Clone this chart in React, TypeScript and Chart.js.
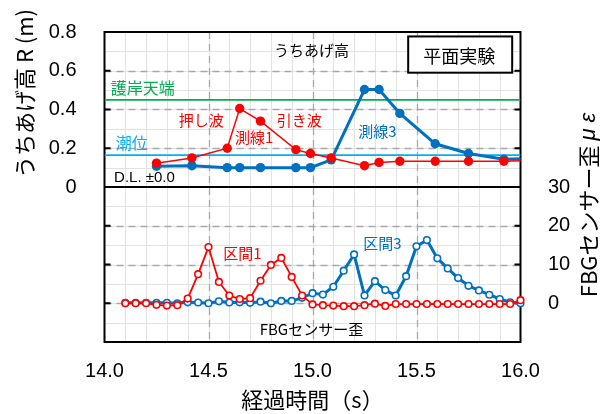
import React, { useEffect, useRef } from 'react';
import { Chart, registerables } from 'chart.js';
Chart.register(...registerables);

// ---- Data ----
// Upper panel: run-up height R (m)
const topTime = [14.25, 14.42, 14.59, 14.65, 14.75, 14.92, 14.99, 15.09, 15.25, 15.32, 15.42, 15.59, 15.75, 15.92, 16.09];
const line1R = [0.123, 0.15, 0.2, 0.405, 0.34, 0.193, 0.173, 0.15, 0.11, 0.127, 0.133, 0.133, 0.133, 0.133, 0.137];
const line3R = [0.107, 0.11, 0.1, 0.1, 0.1, 0.1, 0.1, 0.14, 0.503, 0.503, 0.38, 0.223, 0.173, 0.143, 0.15];

// Lower panel: FBG sensor strain (με)
const fbgTime = [14.1, 14.15, 14.2, 14.25, 14.3, 14.35, 14.4, 14.45, 14.5, 14.55, 14.6, 14.65, 14.7, 14.75, 14.8, 14.85, 14.9, 14.95, 15.0, 15.05, 15.1, 15.15, 15.2, 15.25, 15.3, 15.35, 15.4, 15.45, 15.5, 15.55, 15.6, 15.65, 15.7, 15.75, 15.8, 15.85, 15.9, 15.95, 16.0];
const sec1 = [0, 0, 0, -0.4, -0.6, -0.5, 1.2, 7.5, 14.5, 5.5, 2, 1.1, 1.3, 5.8, 9.9, 11.7, 6.8, 2, -0.3, -0.5, -0.6, -0.75, -0.75, -0.5, -0.1, -0.7, -0.2, -0.2, -0.2, -0.2, -0.2, -0.2, -0.2, -0.2, -0.2, -0.2, -0.2, -0.2, 0.8];
const sec3 = [0.1, 0.1, 0.1, 0.1, 0.1, 0, 0.25, 0.2, 0, 0.5, 0.2, 0.25, 0.1, 0.4, 0, 0.6, 0.6, 1.4, 2.6, 2.25, 4.25, 8.4, 12.6, 2, 5.7, 3.4, 2, 7, 14.7, 16.3, 11.6, 9, 6.5, 4.5, 3.3, 2.2, 1.1, 0.25, 0];

// Reference levels (m)
const seawallCrest = 0.45;
const tideLevel = 0.165;

// Axis ranges / ticks
const xRange = [14, 16];
const xMajor = [14.5, 15.0, 15.5];
const yRange = [-0.8, 0.8];
const y2Range = [-10, 70];
const yMajorTop = [0.2, 0.4, 0.6];
const y2MajorBottom = [0, 10, 20];

const RED = '#FF0000';
const BLUE = '#0070C0';
const GREEN = '#00B050';
const CYAN = '#00B0F0';
const LATIN = "'Liberation Sans', 'Noto Sans CJK JP', sans-serif";
const JP = "'Noto Sans CJK JP', 'Liberation Sans', sans-serif";

const pts = (xs: number[], ys: number[]) => xs.map((x, i) => ({ x, y: ys[i] }));

const decoPlugin = {
  id: 'deco',
  beforeDatasetsDraw(chart: any) {
    const { ctx, chartArea: a } = chart;
    const sx = chart.scales.x, sy = chart.scales.y, sy2 = chart.scales.y2;
    ctx.save();
    ctx.fillStyle = '#fff';
    ctx.fillRect(a.left, a.top, a.right - a.left, a.bottom - a.top);
    // minor grid
    ctx.strokeStyle = '#E2E2E2';
    ctx.lineWidth = 1;
    ctx.beginPath();
    for (let i = 1; i < 20; i++) {
      const p = Math.round(sx.getPixelForValue(14 + i * 0.1)) + 0.5;
      ctx.moveTo(p, a.top); ctx.lineTo(p, a.bottom);
    }
    for (let i = 1; i < 16; i++) {
      const p = Math.round(sy.getPixelForValue(-0.8 + i * 0.1)) + 0.5;
      ctx.moveTo(a.left, p); ctx.lineTo(a.right, p);
    }
    ctx.stroke();
    // dashed major grid
    ctx.setLineDash([7, 5]);
    ctx.strokeStyle = '#A8A8A8';
    ctx.lineWidth = 1.3;
    ctx.beginPath();
    for (const t of xMajor) {
      const p = Math.round(sx.getPixelForValue(t)) + 0.5;
      ctx.moveTo(p, a.top); ctx.lineTo(p, a.bottom);
    }
    for (const v of yMajorTop) {
      const p = Math.round(sy.getPixelForValue(v)) + 0.5;
      ctx.moveTo(a.left, p); ctx.lineTo(a.right, p);
    }
    for (const v of y2MajorBottom) {
      const p = Math.round(sy2.getPixelForValue(v)) + 0.5;
      ctx.moveTo(a.left, p); ctx.lineTo(a.right, p);
    }
    ctx.stroke();
    ctx.setLineDash([]);
    // tick marks inward
    ctx.strokeStyle = '#000';
    ctx.lineWidth = 2;
    ctx.beginPath();
    const tickYs = [
      ...yMajorTop.map((v) => sy.getPixelForValue(v)),
      ...y2MajorBottom.map((v) => sy2.getPixelForValue(v)),
    ];
    for (const p of tickYs) {
      ctx.moveTo(a.left, p); ctx.lineTo(a.left + 6, p);
      ctx.moveTo(a.right, p); ctx.lineTo(a.right - 6, p);
    }
    // divider
    const d = sy.getPixelForValue(0);
    ctx.moveTo(a.left, d); ctx.lineTo(a.right, d);
    ctx.stroke();
    // border
    ctx.strokeRect(a.left, a.top, a.right - a.left, a.bottom - a.top);
    ctx.restore();
  },
  afterDatasetsDraw(chart: any) {
    const { ctx } = chart;
    const sx = chart.scales.x, sy = chart.scales.y;
    const X = (t: number) => sx.getPixelForValue(t);
    const Y = (v: number) => sy.getPixelForValue(v);
    ctx.save();
    ctx.textBaseline = 'middle';
    const txt = (s: string, t: number, v: number, color: string, size: number, align: CanvasTextAlign, fam = JP) => {
      ctx.font = `${size}px ${fam}`;
      ctx.fillStyle = color;
      ctx.textAlign = align;
      ctx.fillText(s, X(t), Y(v));
    };
    // box
    const bx0 = X(15.46), bx1 = X(15.96), by0 = Y(0.777), by1 = Y(0.59);
    ctx.fillStyle = '#fff';
    ctx.fillRect(bx0, by0, bx1 - bx0, by1 - by0);
    ctx.strokeStyle = '#000';
    ctx.lineWidth = 2;
    ctx.strokeRect(bx0, by0, bx1 - bx0, by1 - by0);
    txt('平面実験', 15.705, 0.675, '#000', 18, 'center');
    txt('うちあげ高', 14.995, 0.705, '#000', 15, 'center');
    txt('護岸天端', 14.03, 0.5135, GREEN, 16, 'left');
    txt('潮位', 14.054, 0.2265, CYAN, 16, 'left');
    txt('D.L. ±0.0', 14.046, 0.0485, '#000', 15, 'left', LATIN);
    txt('押し波', 14.357, 0.3435, RED, 15, 'left');
    txt('測線1', 14.627, 0.2565, RED, 15, 'left');
    txt('引き波', 14.828, 0.3435, RED, 15, 'left');
    txt('測線3', 15.22, 0.29, BLUE, 15, 'left');
    txt('区間1', 14.571, -0.3435, RED, 15, 'left');
    txt('区間3', 15.244, -0.29, BLUE, 15, 'left');
    txt('FBGセンサー歪', 14.995, -0.7365, '#000', 15, 'center');

    // axis titles (rotated)
    ctx.fillStyle = '#000';
    ctx.save();
    ctx.translate(25, 93.5);
    ctx.rotate(-Math.PI / 2);
    ctx.font = `22px ${JP}`;
    ctx.textAlign = 'center';
    ctx.fillText('うちあげ高 R (m)', 0, 0);
    ctx.restore();

    ctx.save();
    ctx.translate(589, 205);
    ctx.rotate(-Math.PI / 2);
    const s1 = 'FBGセンサー歪 ';
    const s2 = 'μ ε';
    ctx.font = `22px ${JP}`;
    const w1 = ctx.measureText(s1).width;
    ctx.font = `italic 22px ${LATIN}`;
    const w2 = ctx.measureText(s2).width;
    const start = -(w1 + w2) / 2;
    ctx.textAlign = 'left';
    ctx.font = `22px ${JP}`;
    ctx.fillText(s1, start, 0);
    ctx.font = `italic 22px ${LATIN}`;
    ctx.fillText(s2, start + w1, 0);
    ctx.restore();

    ctx.restore();
  },
};

export default function App() {
  const ref = useRef<HTMLCanvasElement>(null);
  useEffect(() => {
    const chart = new Chart(ref.current as HTMLCanvasElement, {
      type: 'line',
      data: {
        datasets: [
          {
            label: '測線1',
            data: pts(topTime, line1R),
            yAxisID: 'y',
            borderColor: RED,
            backgroundColor: RED,
            borderWidth: 1.5,
            pointRadius: 4.7,
            pointBorderWidth: 0,
            pointBackgroundColor: RED,
            order: 1,
          },
          {
            label: '測線3',
            data: pts(topTime, line3R),
            yAxisID: 'y',
            borderColor: BLUE,
            backgroundColor: BLUE,
            borderWidth: 3,
            pointRadius: 4.7,
            pointBorderWidth: 0,
            pointBackgroundColor: BLUE,
            order: 2,
          },
          {
            label: '区間1',
            data: pts(fbgTime, sec1),
            yAxisID: 'y2',
            borderColor: RED,
            backgroundColor: '#fff',
            borderWidth: 1.8,
            pointRadius: 3.3,
            pointBorderWidth: 1.6,
            pointBorderColor: RED,
            pointBackgroundColor: '#fff',
            clip: 6,
            order: 3,
          },
          {
            label: '区間3',
            data: pts(fbgTime, sec3),
            yAxisID: 'y2',
            borderColor: BLUE,
            backgroundColor: '#fff',
            borderWidth: 3,
            pointRadius: 3.3,
            pointBorderWidth: 1.6,
            pointBorderColor: BLUE,
            pointBackgroundColor: '#fff',
            clip: 6,
            order: 4,
          },
          {
            label: '護岸天端',
            data: pts(xRange, [seawallCrest, seawallCrest]),
            yAxisID: 'y',
            borderColor: GREEN,
            borderWidth: 1.8,
            pointRadius: 0,
            order: 10,
          },
          {
            label: '潮位',
            data: pts(xRange, [tideLevel, tideLevel]),
            yAxisID: 'y',
            borderColor: CYAN,
            borderWidth: 1.8,
            pointRadius: 0,
            order: 11,
          },
        ] as any,
      },
      options: {
        responsive: false,
        animation: false,
        events: [],
        layout: { padding: { top: 22, left: 0, right: 0, bottom: 0 } },
        plugins: { legend: { display: false }, tooltip: { enabled: false } },
        scales: {
          x: {
            type: 'linear',
            min: xRange[0],
            max: xRange[1],
            grid: { display: false },
            border: { display: false },
            ticks: {
              stepSize: 0.5,
              autoSkip: false,
              maxRotation: 0,
              padding: 9,
              color: '#000',
              font: { size: 20, family: LATIN },
              callback: (v: any) => Number(v).toFixed(1),
            },
            title: {
              display: true,
              text: '経過時間（s）',
              color: '#000',
              font: { size: 22, family: JP },
              padding: { top: 0, bottom: 1 },
            },
            afterFit: (s: any) => { s.height = 72; },
          },
          y: {
            type: 'linear',
            position: 'left',
            min: yRange[0],
            max: yRange[1],
            grid: { display: false },
            border: { display: false },
            ticks: {
              stepSize: 0.2,
              padding: 20,
              color: '#000',
              font: { size: 20, family: LATIN },
              callback: (v: any) => {
                const n = Number(v);
                if (n < -1e-9) return '';
                if (Math.abs(n) < 1e-9) return '0';
                return n.toFixed(1);
              },
            },
            afterFit: (s: any) => { s.width = 104.5; },
          },
          y2: {
            type: 'linear',
            position: 'right',
            min: y2Range[0],
            max: y2Range[1],
            grid: { display: false },
            border: { display: false },
            ticks: {
              stepSize: 10,
              padding: 19.5,
              color: '#000',
              font: { size: 20, family: LATIN },
              callback: (v: any) => {
                const n = Number(v);
                return n >= 0 && n <= 30 ? String(n) : '';
              },
            },
            afterFit: (s: any) => { s.width = 87.5; },
          },
        },
      } as any,
      plugins: [decoPlugin],
    });
    return () => chart.destroy();
  }, []);
  return (
    <div style={{ position: 'fixed', left: 0, top: 0, width: 608, height: 414, background: '#fff' }}>
      <canvas ref={ref} width={608} height={414} style={{ display: 'block' }} />
    </div>
  );
}
